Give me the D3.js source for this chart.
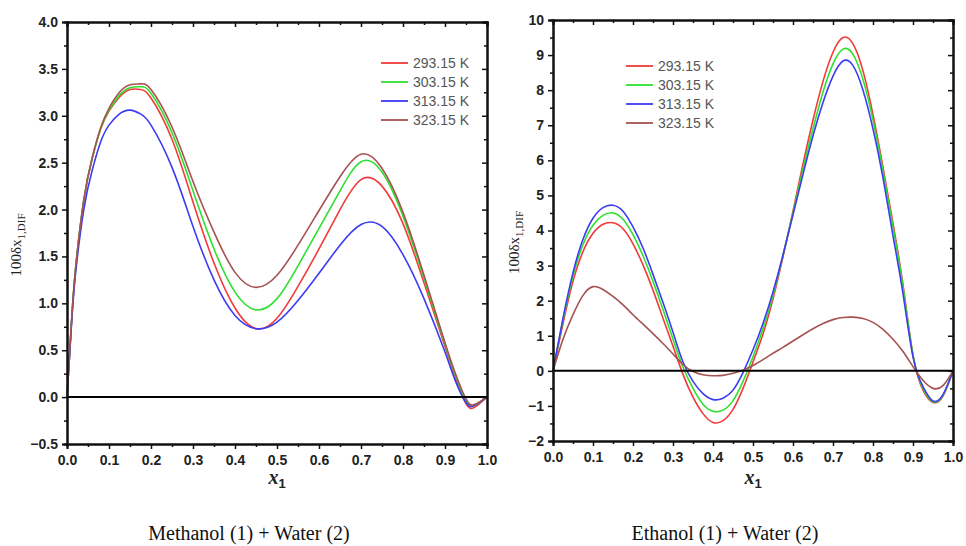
<!DOCTYPE html>
<html><head><meta charset="utf-8">
<script src="https://cdn.jsdelivr.net/npm/d3@7"></script>
<style>body{margin:0;background:#fff} svg{display:block}</style>
</head><body><svg id="c" width="966" height="546"></svg>
<script>
// ---------- data ----------
const seriesLabels = ["293.15 K", "303.15 K", "313.15 K", "323.15 K"];

const methanolX = [0, 0.01, 0.02, 0.04, 0.06, 0.08, 0.1, 0.125, 0.15, 0.175, 0.2, 0.25, 0.3, 0.35, 0.4, 0.45, 0.5, 0.55, 0.6, 0.65, 0.7, 0.75, 0.8, 0.85, 0.9, 0.925, 0.95, 0.97, 1.0];
const methanol293 = [0, 0.75, 1.35, 2.1, 2.55, 2.86, 3.05, 3.2, 3.28, 3.28, 3.19, 2.75, 2.08, 1.43, 0.95, 0.73, 0.84, 1.18, 1.58, 2.0, 2.32, 2.25, 1.85, 1.22, 0.54, 0.2, -0.07, -0.11, 0];
const methanol303 = [0, 0.75, 1.35, 2.1, 2.55, 2.86, 3.06, 3.22, 3.3, 3.31, 3.24, 2.82, 2.2, 1.58, 1.12, 0.93, 1.05, 1.4, 1.8, 2.2, 2.51, 2.4, 1.93, 1.27, 0.56, 0.23, -0.04, -0.09, 0];
const methanol313 = [0, 0.72, 1.3, 2.0, 2.42, 2.72, 2.9, 3.02, 3.06, 3.02, 2.9, 2.45, 1.82, 1.25, 0.87, 0.73, 0.8, 1.03, 1.32, 1.62, 1.84, 1.82, 1.52, 1.05, 0.48, 0.17, -0.06, -0.09, 0];
const methanol323 = [0, 0.75, 1.35, 2.1, 2.55, 2.87, 3.08, 3.25, 3.33, 3.34, 3.28, 2.88, 2.3, 1.76, 1.33, 1.17, 1.3, 1.62, 1.99, 2.35, 2.59, 2.44, 1.97, 1.3, 0.58, 0.25, -0.02, -0.08, 0];

const ethanolX = d3.range(41).map(i => i / 40);
const ethanol293 = [0, 1.35, 2.55, 3.4, 3.92, 4.18, 4.22, 4.05, 3.62, 3.02, 2.3, 1.5, 0.7, -0.1, -0.75, -1.22, -1.47, -1.42, -1.1, -0.5, 0.25, 1.05, 2.05, 3.25, 4.55, 5.9, 7.15, 8.25, 9.08, 9.5, 9.32, 8.55, 7.3, 5.8, 4.2, 2.45, 0.45, -0.55, -0.9, -0.72, 0];
const ethanol303 = [0, 1.45, 2.7, 3.6, 4.15, 4.43, 4.5, 4.32, 3.88, 3.28, 2.55, 1.75, 0.9, 0.1, -0.5, -0.95, -1.15, -1.12, -0.85, -0.3, 0.4, 1.2, 2.15, 3.3, 4.5, 5.75, 6.9, 7.95, 8.75, 9.17, 9.02, 8.3, 7.15, 5.7, 4.1, 2.4, 0.45, -0.5, -0.88, -0.7, 0];
const ethanol313 = [0, 1.5, 2.8, 3.75, 4.35, 4.65, 4.72, 4.55, 4.1, 3.5, 2.75, 1.95, 1.1, 0.25, -0.3, -0.65, -0.82, -0.78, -0.55, -0.05, 0.6, 1.35, 2.25, 3.3, 4.45, 5.6, 6.7, 7.65, 8.4, 8.83, 8.7, 8.0, 6.9, 5.5, 3.85, 2.2, 0.4, -0.45, -0.86, -0.68, 0];
const ethanol323 = [0, 0.9, 1.6, 2.15, 2.4, 2.32, 2.12, 1.88, 1.6, 1.33, 1.06, 0.78, 0.48, 0.18, -0.02, -0.11, -0.14, -0.13, -0.07, 0.02, 0.15, 0.32, 0.5, 0.67, 0.85, 1.03, 1.2, 1.35, 1.46, 1.52, 1.53, 1.49, 1.38, 1.18, 0.9, 0.55, 0.12, -0.27, -0.5, -0.42, 0];

const xTicks = [0, 0.1, 0.2, 0.3, 0.4, 0.5, 0.6, 0.7, 0.8, 0.9, 1.0];
const methanolYTicks = [-0.5, 0, 0.5, 1.0, 1.5, 2.0, 2.5, 3.0, 3.5, 4.0];
const ethanolYTicks = [-2, -1, 0, 1, 2, 3, 4, 5, 6, 7, 8, 9, 10];
const captions = ["Methanol (1) + Water (2)", "Ethanol (1) + Water (2)"];

// ---------- styles ----------
const colors = ["#f23a3a", "#2ee02e", "#3c3cf5", "#a65252"];
const svg = d3.select("#c");
const tickFont = "'Liberation Sans', Arial, sans-serif";
const serif = "'Liberation Serif', 'Times New Roman', serif";

function panel(o) {
  const x = d3.scaleLinear().domain([0, 1]).range([o.x0, o.x1]);
  const y = d3.scaleLinear().domain(o.yDomain).range([o.y1, o.y0]);
  const g = svg.append("g");
  const line = d3.line().x(d => x(d[0])).y(d => y(d[1])).curve(d3.curveNatural);

  o.series.forEach((s, i) => {
    g.append("path").datum(o.xs.map((v, k) => [v, s[k]]))
      .attr("d", line).attr("fill", "none")
      .attr("stroke", colors[i]).attr("stroke-width", 1.6);
  });
  g.append("line").attr("x1", o.x0).attr("x2", o.x1).attr("y1", y(0)).attr("y2", y(0))
    .attr("stroke", "#000").attr("stroke-width", 2);

  const xMinor = d3.range(0.05, 1, 0.1);
  const yStep = o.yTicks[1] - o.yTicks[0];
  const yMinor = o.yTicks.slice(0, -1).map(v => v + yStep / 2);

  g.append("g").attr("transform", `translate(0,${o.y1})`)
    .call(d3.axisBottom(x).tickValues(xTicks).tickFormat(d3.format(".1f")).tickSize(5).tickPadding(6));
  g.append("g").attr("transform", `translate(0,${o.y1})`)
    .call(d3.axisBottom(x).tickValues(xMinor).tickFormat("").tickSize(3));
  g.append("g").attr("transform", `translate(${o.x0},0)`)
    .call(d3.axisLeft(y).tickValues(o.yTicks).tickFormat(o.fmt).tickSize(5).tickPadding(4));
  g.append("g").attr("transform", `translate(${o.x0},0)`)
    .call(d3.axisLeft(y).tickValues(yMinor).tickFormat("").tickSize(3));
  g.append("g").attr("transform", `translate(0,${o.y0})`)
    .call(d3.axisBottom(x).tickValues(xTicks).tickFormat("").tickSize(5));
  g.append("g").attr("transform", `translate(0,${o.y0})`)
    .call(d3.axisBottom(x).tickValues(xMinor).tickFormat("").tickSize(3));
  g.append("g").attr("transform", `translate(${o.x1},0)`)
    .call(d3.axisLeft(y).tickValues(o.yTicks).tickFormat("").tickSize(5));
  g.append("g").attr("transform", `translate(${o.x1},0)`)
    .call(d3.axisLeft(y).tickValues(yMinor).tickFormat("").tickSize(3));

  g.selectAll(".domain").attr("stroke", "#111").attr("stroke-width", 2);
  g.selectAll(".tick line").attr("stroke", "#111").attr("stroke-width", 1.5);
  g.selectAll(".tick text").attr("font-family", tickFont).attr("font-weight", "bold")
    .attr("font-size", 14).attr("fill", "#222");

  const yt = g.append("text").attr("transform", `translate(${o.yTitleX},${(o.y0 + o.y1) / 2 + 12}) rotate(-90)`)
    .attr("text-anchor", "middle").attr("font-family", serif).attr("font-size", 15).attr("fill", "#222");
  yt.append("tspan").text("100δx");
  yt.append("tspan").attr("dy", 4).attr("font-size", 11).text("1,DIF");

  const xt = g.append("text").attr("x", (o.x0 + o.x1) / 2).attr("y", 484)
    .attr("text-anchor", "middle").attr("font-family", serif).attr("fill", "#222");
  xt.append("tspan").attr("font-style", "italic").attr("font-weight", "bold").attr("font-size", 20).text("x");
  xt.append("tspan").attr("dy", 4).attr("font-family", tickFont).attr("font-weight", "bold").attr("font-size", 13).text("1");

  seriesLabels.forEach((lab, i) => {
    const ly = o.legY + i * 19;
    g.append("line").attr("x1", o.legX).attr("x2", o.legX + 27).attr("y1", ly).attr("y2", ly)
      .attr("stroke", colors[i]).attr("stroke-width", 1.8);
    g.append("text").attr("x", o.legX + 32).attr("y", ly + 5).text(lab)
      .attr("font-family", tickFont).attr("font-size", 14).attr("fill", "#555");
  });

  svg.append("text").attr("x", o.capX).attr("y", 540).attr("text-anchor", "middle")
    .attr("font-family", serif).attr("font-size", 20).attr("fill", "#111").text(o.caption);
}

panel({
  x0: 67, x1: 487, y0: 22, y1: 444, yDomain: [-0.5, 4.0], yTicks: methanolYTicks,
  fmt: d3.format(".1f"), xs: methanolX,
  series: [methanol293, methanol303, methanol313, methanol323],
  yTitleX: 21, legX: 381, legY: 63, caption: captions[0], capX: 249
});
panel({
  x0: 553, x1: 953, y0: 20, y1: 441, yDomain: [-2, 10], yTicks: ethanolYTicks,
  fmt: d3.format("d"), xs: ethanolX,
  series: [ethanol293, ethanol303, ethanol313, ethanol323],
  yTitleX: 519, legX: 626, legY: 66, caption: captions[1], capX: 725
});
</script>
</body></html>
